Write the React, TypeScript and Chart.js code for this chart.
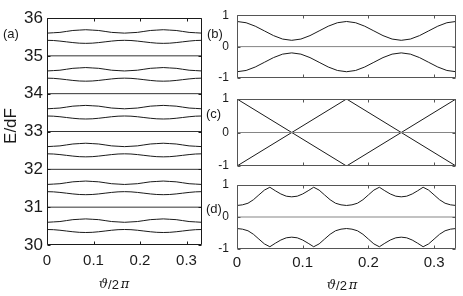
import React, { useEffect, useRef } from 'react';
import { Chart, registerables } from 'chart.js';

Chart.register(...registerables);

const W = 463;
const H = 296;
const X_MAX = 1 / 3;

// ---------- x samples ----------
const xFine = [0, 0.0139, 0.0278, 0.0417, 0.0556, 0.0694, 0.0833, 0.0972, 0.1111, 0.125, 0.1389, 0.1528, 0.1667,
  0.1806, 0.1944, 0.2083, 0.2222, 0.2361, 0.25, 0.2639, 0.2778, 0.2917, 0.3056, 0.3194, 0.3333];
const xD = [0, 0.0083, 0.0167, 0.025, 0.0333, 0.0417, 0.05, 0.0583, 0.0667, 0.075, 0.0833, 0.0917, 0.1, 0.1083,
  0.1167, 0.125, 0.1333, 0.1417, 0.15, 0.1583, 0.1667, 0.175, 0.1833, 0.1917, 0.2, 0.2083, 0.2167, 0.225, 0.2333,
  0.2417, 0.25, 0.2583, 0.2667, 0.275, 0.2833, 0.2917, 0.3, 0.3083, 0.3167, 0.325, 0.3333];
const xC = [0, 0.1667, 0.3333];
const xFlat = [0, 0.3333];

// ---------- ticks ----------
const xTicks = [0, 0.1, 0.2, 0.3];
const xTickLabels = ['0', '0.1', '0.2', '0.3'];
const yTicksA = [30, 31, 32, 33, 34, 35, 36];
const yTickLabelsA = ['30', '31', '32', '33', '34', '35', '36'];
const yTicksR = [-1, 0, 1];
const yTickLabelsR = ['-1', '0', '1'];

// ---------- panel (a) ----------
const levelsA = [31, 32, 33, 34, 35];
const a30Up = [30.6, 30.61, 30.62, 30.645, 30.67, 30.68, 30.69, 30.68, 30.67, 30.645, 30.62, 30.61, 30.6, 30.61, 30.62, 30.645, 30.67, 30.68, 30.69, 30.68, 30.67, 30.645, 30.62, 30.61, 30.6];
const a30Lo = [30.41, 30.405, 30.39, 30.37, 30.35, 30.335, 30.33, 30.335, 30.35, 30.37, 30.39, 30.405, 30.41, 30.405, 30.39, 30.37, 30.35, 30.335, 30.33, 30.335, 30.35, 30.37, 30.39, 30.405, 30.41];
const a31Up = [31.6, 31.61, 31.62, 31.645, 31.67, 31.68, 31.69, 31.68, 31.67, 31.645, 31.62, 31.61, 31.6, 31.61, 31.62, 31.645, 31.67, 31.68, 31.69, 31.68, 31.67, 31.645, 31.62, 31.61, 31.6];
const a31Lo = [31.41, 31.405, 31.39, 31.37, 31.35, 31.335, 31.33, 31.335, 31.35, 31.37, 31.39, 31.405, 31.41, 31.405, 31.39, 31.37, 31.35, 31.335, 31.33, 31.335, 31.35, 31.37, 31.39, 31.405, 31.41];
const a32Up = [32.6, 32.61, 32.62, 32.645, 32.67, 32.68, 32.69, 32.68, 32.67, 32.645, 32.62, 32.61, 32.6, 32.61, 32.62, 32.645, 32.67, 32.68, 32.69, 32.68, 32.67, 32.645, 32.62, 32.61, 32.6];
const a32Lo = [32.41, 32.405, 32.39, 32.37, 32.35, 32.335, 32.33, 32.335, 32.35, 32.37, 32.39, 32.405, 32.41, 32.405, 32.39, 32.37, 32.35, 32.335, 32.33, 32.335, 32.35, 32.37, 32.39, 32.405, 32.41];
const a33Up = [33.6, 33.61, 33.62, 33.645, 33.67, 33.68, 33.69, 33.68, 33.67, 33.645, 33.62, 33.61, 33.6, 33.61, 33.62, 33.645, 33.67, 33.68, 33.69, 33.68, 33.67, 33.645, 33.62, 33.61, 33.6];
const a33Lo = [33.41, 33.405, 33.39, 33.37, 33.35, 33.335, 33.33, 33.335, 33.35, 33.37, 33.39, 33.405, 33.41, 33.405, 33.39, 33.37, 33.35, 33.335, 33.33, 33.335, 33.35, 33.37, 33.39, 33.405, 33.41];
const a34Up = [34.6, 34.61, 34.62, 34.645, 34.67, 34.68, 34.69, 34.68, 34.67, 34.645, 34.62, 34.61, 34.6, 34.61, 34.62, 34.645, 34.67, 34.68, 34.69, 34.68, 34.67, 34.645, 34.62, 34.61, 34.6];
const a34Lo = [34.41, 34.405, 34.39, 34.37, 34.35, 34.335, 34.33, 34.335, 34.35, 34.37, 34.39, 34.405, 34.41, 34.405, 34.39, 34.37, 34.35, 34.335, 34.33, 34.335, 34.35, 34.37, 34.39, 34.405, 34.41];
const a35Up = [35.6, 35.61, 35.62, 35.645, 35.67, 35.68, 35.69, 35.68, 35.67, 35.645, 35.62, 35.61, 35.6, 35.61, 35.62, 35.645, 35.67, 35.68, 35.69, 35.68, 35.67, 35.645, 35.62, 35.61, 35.6];
const a35Lo = [35.41, 35.405, 35.39, 35.37, 35.35, 35.335, 35.33, 35.335, 35.35, 35.37, 35.39, 35.405, 35.41, 35.405, 35.39, 35.37, 35.35, 35.335, 35.33, 35.335, 35.35, 35.37, 35.39, 35.405, 35.41];

// ---------- panel (b) ----------
const bUp = [0.8, 0.76, 0.65, 0.5, 0.35, 0.24, 0.2, 0.24, 0.35, 0.5, 0.65, 0.76, 0.8, 0.76, 0.65, 0.5, 0.35, 0.24, 0.2, 0.24, 0.35, 0.5, 0.65, 0.76, 0.8];
const bLo = [-0.8, -0.76, -0.65, -0.5, -0.35, -0.24, -0.2, -0.24, -0.35, -0.5, -0.65, -0.76, -0.8, -0.76, -0.65, -0.5, -0.35, -0.24, -0.2, -0.24, -0.35, -0.5, -0.65, -0.76, -0.8];

// ---------- panel (c) ----------
const cFall = [1, -1, 1];
const cRise = [-1, 1, -1];

// ---------- panel (d) ----------
const dUp = [0.36, 0.38, 0.43, 0.54, 0.69, 0.84, 0.93, 0.82, 0.72, 0.65, 0.63, 0.65, 0.72, 0.82, 0.93, 0.84, 0.69, 0.54, 0.43, 0.38, 0.36,
  0.38, 0.43, 0.54, 0.69, 0.84, 0.93, 0.82, 0.72, 0.65, 0.63, 0.65, 0.72, 0.82, 0.93, 0.84, 0.69, 0.54, 0.43, 0.38, 0.36];
const dLo = [-0.36, -0.38, -0.43, -0.54, -0.69, -0.84, -0.93, -0.82, -0.72, -0.65, -0.63, -0.65, -0.72, -0.82, -0.93, -0.84, -0.69, -0.54, -0.43, -0.38, -0.36,
  -0.38, -0.43, -0.54, -0.69, -0.84, -0.93, -0.82, -0.72, -0.65, -0.63, -0.65, -0.72, -0.82, -0.93, -0.84, -0.69, -0.54, -0.43, -0.38, -0.36];

const zeroLine = [0, 0];

// ---------- styles ----------
const INK = '#1a1a1a';
const GRAY = '#858585';
const SANS = '"Liberation Sans", Arial, Helvetica, sans-serif';
const SERIF = '"DejaVu Serif", "Liberation Serif", serif';

const pts = (xs: number[], ys: number[]) => ys.map((y, i) => ({ x: xs[i], y }));
const line = (xs: number[], ys: number[], color = INK, width = 1) => ({
  data: pts(xs, ys),
  borderColor: color,
  borderWidth: width,
  pointRadius: 0,
  tension: 0,
  fill: false,
});

type Area = { left: number; top: number; right: number; bottom: number };
type Panel = {
  key: string;
  area: Area;
  yMin: number;
  yMax: number;
  yTicks: number[];
  yLabels: string[];
  yFont: number;
  yPad: number;
  showX: boolean;
  xPad: number;
  label: string;
  labelPos: [number, number];
  frameColor: string;
  datasets: any[];
  yTitle?: { text: string; x: number; y: number };
  xTitle?: { x: number; y: number };
};

const PANELS: Panel[] = [
  {
    key: 'a',
    area: { left: 47, top: 18, right: 202, bottom: 245 },
    yMin: 30, yMax: 36, yTicks: yTicksA, yLabels: yTickLabelsA, yFont: 17, yPad: 4,
    showX: true, xPad: 7,
    label: '(a)', labelPos: [3, 34], frameColor: '#1a1a1a',
    datasets: [
      ...levelsA.map((v) => line(xFlat, [v, v], '#333')),
      line(xFine, a30Up), line(xFine, a30Lo),
      line(xFine, a31Up), line(xFine, a31Lo),
      line(xFine, a32Up), line(xFine, a32Lo),
      line(xFine, a33Up), line(xFine, a33Lo),
      line(xFine, a34Up), line(xFine, a34Lo),
      line(xFine, a35Up), line(xFine, a35Lo),
    ],
    yTitle: { text: 'E/dF', x: 11, y: 126 },
    xTitle: { x: 114, y: 285 },
  },
  {
    key: 'b',
    area: { left: 237, top: 13, right: 456, bottom: 78 },
    yMin: -1, yMax: 1, yTicks: yTicksR, yLabels: yTickLabelsR, yFont: 12, yPad: 8,
    showX: false, xPad: 5,
    label: '(b)', labelPos: [207, 34], frameColor: '#555',
    datasets: [line(xFlat, zeroLine, GRAY), line(xFine, bUp), line(xFine, bLo)],
  },
  {
    key: 'c',
    area: { left: 237, top: 99, right: 456, bottom: 166 },
    yMin: -1, yMax: 1, yTicks: yTicksR, yLabels: yTickLabelsR, yFont: 12, yPad: 8,
    showX: false, xPad: 5,
    label: '(c)', labelPos: [206, 114], frameColor: '#555',
    datasets: [line(xFlat, zeroLine, GRAY), line(xC, cFall), line(xC, cRise)],
  },
  {
    key: 'd',
    area: { left: 237, top: 185, right: 456, bottom: 249 },
    yMin: -1, yMax: 1, yTicks: yTicksR, yLabels: yTickLabelsR, yFont: 12, yPad: 8,
    showX: true, xPad: 5,
    label: '(d)', labelPos: [206, 209], frameColor: '#555',
    datasets: [line(xFlat, zeroLine, GRAY), line(xD, dUp), line(xD, dLo)],
    xTitle: { x: 342, y: 286 },
  },
];

function drawXTitle(ctx: CanvasRenderingContext2D, cx: number, cy: number) {
  const parts = [
    { t: 'ϑ', f: `italic 13px ${SERIF}` },
    { t: '/2', f: `13px ${SANS}` },
    { t: ' ', f: `6px ${SANS}` },
    { t: 'π', f: `italic 13px ${SERIF}` },
  ];
  let total = 0;
  const widths = parts.map((p) => {
    ctx.font = p.f;
    const w = ctx.measureText(p.t).width;
    total += w;
    return w;
  });
  let x = cx - total / 2;
  ctx.textAlign = 'left';
  ctx.textBaseline = 'middle';
  parts.forEach((p, i) => {
    ctx.font = p.f;
    ctx.fillText(p.t, x, cy);
    x += widths[i];
  });
}

function framePlugin(p: Panel) {
  return {
    id: 'frame_' + p.key,
    afterDraw(chart: any) {
      const { ctx, chartArea: a } = chart;
      const xs = chart.scales.x;
      const ys = chart.scales.y;
      const L = Math.round(a.left) + 0.5;
      const R = Math.round(a.right) - 0.5;
      const T = Math.round(a.top) + 0.5;
      const B = Math.round(a.bottom) - 0.5;
      ctx.save();
      ctx.strokeStyle = p.frameColor;
      ctx.lineWidth = 1;
      ctx.beginPath();
      ctx.rect(L, T, R - L, B - T);
      ctx.stroke();
      ctx.beginPath();
      for (const v of xTicks) {
        const px = Math.round(xs.getPixelForValue(v)) + 0.5;
        ctx.moveTo(px, B);
        ctx.lineTo(px, B - 3);
        ctx.moveTo(px, T);
        ctx.lineTo(px, T + 3);
      }
      for (const v of p.yTicks) {
        const py = Math.round(ys.getPixelForValue(v)) + 0.5;
        ctx.moveTo(L, py);
        ctx.lineTo(L + 3, py);
        ctx.moveTo(R, py);
        ctx.lineTo(R - 3, py);
      }
      ctx.stroke();

      ctx.fillStyle = INK;
      ctx.font = `13px ${SANS}`;
      ctx.textAlign = 'left';
      ctx.textBaseline = 'middle';
      ctx.fillText(p.label, p.labelPos[0], p.labelPos[1]);

      if (p.yTitle) {
        ctx.save();
        ctx.translate(p.yTitle.x, p.yTitle.y);
        ctx.rotate(-Math.PI / 2);
        ctx.font = `17px ${SANS}`;
        ctx.textAlign = 'center';
        ctx.textBaseline = 'middle';
        ctx.fillText(p.yTitle.text, 0, 0);
        ctx.restore();
      }
      if (p.xTitle) {
        drawXTitle(ctx, p.xTitle.x, p.xTitle.y);
      }
      ctx.restore();
    },
  };
}

function makeConfig(p: Panel): any {
  return {
    type: 'line',
    data: { datasets: p.datasets },
    options: {
      responsive: false,
      animation: false,
      events: [],
      layout: {
        padding: {
          left: 0,
          top: p.area.top,
          right: W - p.area.right,
          bottom: p.showX ? 0 : H - p.area.bottom,
        },
      },
      plugins: {
        legend: { display: false },
        tooltip: { enabled: false },
        title: { display: false },
      },
      scales: {
        x: {
          type: 'linear',
          min: 0,
          max: X_MAX,
          display: p.showX,
          afterBuildTicks: (s: any) => {
            s.ticks = xTicks.map((v) => ({ value: v }));
          },
          afterFit: (s: any) => {
            if (p.showX) s.height = H - p.area.bottom;
          },
          grid: { display: false, drawTicks: false },
          border: { display: false },
          ticks: {
            padding: p.xPad,
            color: INK,
            autoSkip: false,
            maxRotation: 0,
            font: { family: SANS, size: 15 },
            callback: (_v: any, i: number) => xTickLabels[i],
          },
        },
        y: {
          type: 'linear',
          min: p.yMin,
          max: p.yMax,
          afterBuildTicks: (s: any) => {
            s.ticks = p.yTicks.map((v) => ({ value: v }));
          },
          afterFit: (s: any) => {
            s.width = p.area.left;
          },
          grid: { display: false, drawTicks: false },
          border: { display: false },
          ticks: {
            padding: p.yPad,
            color: INK,
            autoSkip: false,
            font: { family: SANS, size: p.yFont },
            callback: (_v: any, i: number) => p.yLabels[i],
          },
        },
      },
    },
    plugins: [framePlugin(p)],
  };
}

export default function App() {
  const canvases = useRef<(HTMLCanvasElement | null)[]>([]);
  useEffect(() => {
    const charts = PANELS.map((p, i) => new Chart(canvases.current[i] as HTMLCanvasElement, makeConfig(p)));
    return () => charts.forEach((c) => c.destroy());
  }, []);
  return (
    <div style={{ position: 'fixed', left: 0, top: 0, width: W, height: H, background: '#fff' }}>
      {PANELS.map((p, i) => (
        <canvas
          key={p.key}
          ref={(el) => {
            canvases.current[i] = el;
          }}
          width={W}
          height={H}
          style={{ position: 'absolute', left: 0, top: 0, width: W, height: H }}
        />
      ))}
    </div>
  );
}
